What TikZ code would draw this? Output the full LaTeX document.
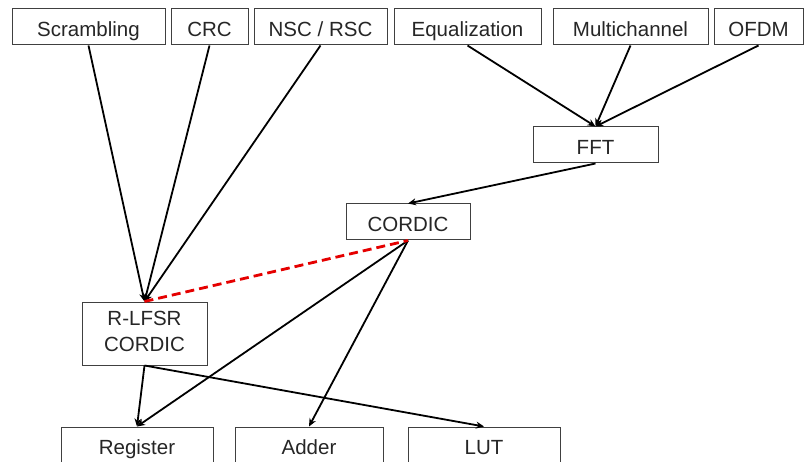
\documentclass[tikz,border=0pt]{standalone}
\usepackage{fontspec}
\setmainfont{Liberation Sans}
\usetikzlibrary{arrows.meta}
\begin{document}
\begin{tikzpicture}[x=1pt,y=-1pt,
  box/.style={draw=black!75, line width=1pt, fill=white, inner sep=0pt, minimum height=36pt,
    text height=18.5pt, text depth=0pt,
    font=\fontsize{20.5}{26}\selectfont, text=black!85, align=center},
  arr/.style={draw=black, line width=1.8pt, -{Stealth[length=8pt,width=7pt]}},
  link/.style={draw=red!90!black, line width=2.8pt, dash pattern=on 9pt off 5pt}]
\clip (0,0) rectangle (805,462);
\fill[white] (0,0) rectangle (805,462);
\node[box, minimum width=153pt] (scr) at (88.5,27) {Scrambling};
\node[box, minimum width=77pt] (crc) at (209.5,27) {CRC};
\node[box, minimum width=133pt] (nsc) at (320.5,27) {NSC / RSC};
\node[box, minimum width=147pt] (equ) at (467.5,27) {Equalization};
\node[box, minimum width=155pt] (mul) at (630.5,27) {Multichannel};
\node[box, minimum width=89pt] (ofdm) at (758.5,27) {OFDM};
\node[box, minimum width=125pt] (fft) at (595.5,145) {FFT};
\node[box, minimum width=124pt] (cor) at (408,222) {CORDIC};
\node[box, minimum width=125pt, minimum height=63pt, text height=41pt, text depth=4.5pt] (rl) at (144.5,333.5) {R-LFSR\\CORDIC};
\node[box, minimum width=152pt] (reg) at (137,445) {Register};
\node[box, minimum width=148pt] (add) at (309,445) {Adder};
\node[box, minimum width=152pt] (lut) at (484,445) {LUT};
\draw[arr] (scr.south) -- (rl.north);
\draw[arr] (crc.south) -- (rl.north);
\draw[arr] (nsc.south) -- (rl.north);
\draw[arr] (equ.south) -- (fft.north);
\draw[arr] (mul.south) -- (fft.north);
\draw[arr] (ofdm.south) -- (fft.north);
\draw[arr] (fft.south) -- (cor.north);
\draw[arr] (cor.south) -- (reg.north);
\draw[arr] (cor.south) -- (add.north);
\draw[arr] (rl.south) -- (reg.north);
\draw[arr] (rl.south) -- (lut.north);
\draw[link] (rl.north) -- (cor.south);
\end{tikzpicture}
\end{document}
